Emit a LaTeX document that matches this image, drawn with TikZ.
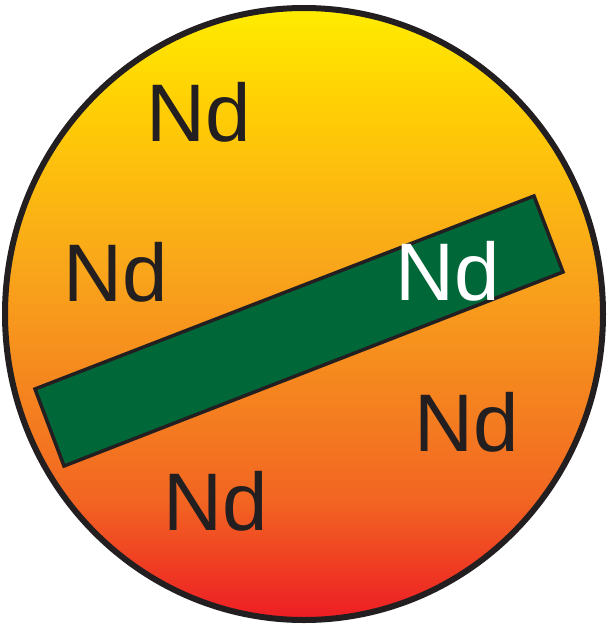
\documentclass[tikz,border=0pt]{standalone}
\usepackage{fontspec}
\setmainfont{Liberation Sans}
\definecolor{outline}{HTML}{231F20}
\definecolor{bargreen}{HTML}{006838}
\definecolor{cY}{HTML}{FFEC00}
\definecolor{cY2}{HTML}{FFCC05}
\definecolor{cO1}{HTML}{F9A51B}
\definecolor{cO2}{HTML}{F47C20}
\definecolor{cO3}{HTML}{F26522}
\definecolor{cR}{HTML}{ED1C24}
\pgfdeclareverticalshading{sunshade}{100bp}{color(0bp)=(cR); color(25bp)=(cR); color(34.8bp)=(cO3); color(41.3bp)=(cO2); color(53.6bp)=(cO1); color(66.25bp)=(cY2); color(75bp)=(cY); color(100bp)=(cY)}
\tikzset{
  lbl/.style={anchor=base, inner sep=0pt, font=\fontsize{81.7}{90}\selectfont, text=outline},
  lblw/.style={lbl, text=white},
}
\begin{document}
\begin{tikzpicture}[x=1pt,y=-1pt]
\useasboundingbox (0,0) rectangle (611,627);
\shade[shading=sunshade] (304,314) ellipse [x radius=299, y radius=306];
\draw[outline, line width=6] (304,314) ellipse [x radius=299, y radius=306];
\draw[fill=bargreen, draw=outline, line width=3.5, line join=miter]
  (35,389) -- (534,196) -- (563,272) -- (64,466) -- cycle;
\node[lbl] (n1) at (199,141.7) {Nd};
\node[lbl] (n2) at (115.3,301.7) {Nd};
\node[lblw] (n3) at (447.5,300) {Nd};
\node[lbl] (n4) at (466.7,451.7) {Nd};
\node[lbl] (n5) at (215.3,530) {Nd};
\end{tikzpicture}
\end{document}
